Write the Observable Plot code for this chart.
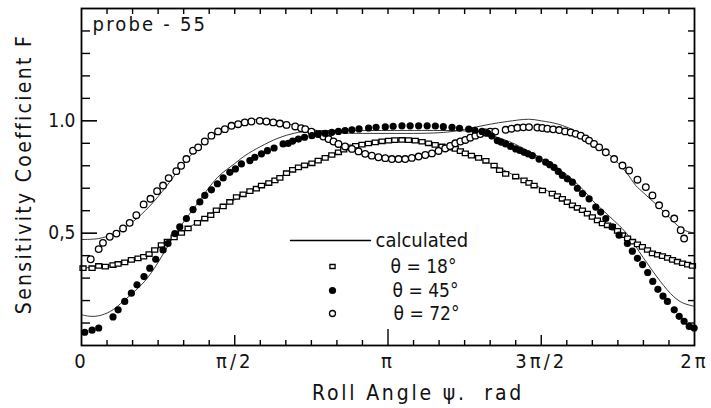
<!DOCTYPE html>
<html><head><meta charset="utf-8">
<script src="https://cdn.jsdelivr.net/npm/d3@7"></script>
<script src="https://cdn.jsdelivr.net/npm/@observablehq/plot@0.6"></script>
<style>
body{margin:0;background:#fff;}
svg{font-family:"DejaVu Sans Condensed","Liberation Sans Narrow","DejaVu Sans",sans-serif;}
</style></head><body><div id="chart"></div>
<script>
// roll angle in degrees (0..360 = 0..2π), sensitivity coefficient F
const sq18 = [[0.9,0.344],[6.2,0.344],[10.1,0.354],[14,0.351],[18.5,0.358],[21.5,0.363],[25.4,0.370],[29.3,0.381],[33.2,0.388],[36.5,0.395],[39.7,0.407],[43,0.425],[46.9,0.447],[50.4,0.462],[54.4,0.481],[58.7,0.501],[62.6,0.521],[68.1,0.546],[72.4,0.565],[75.9,0.580],[79.2,0.602],[83.2,0.619],[87.1,0.639],[91,0.661],[94.9,0.673],[98.9,0.687],[102.7,0.698],[105.7,0.712],[110,0.723],[113.6,0.735],[116.5,0.746],[120.4,0.767],
[124,0.782],[127.4,0.793],[131,0.802],[135.3,0.811],[139,0.823],[143.1,0.835],[147,0.848],[150.9,0.860],[154,0.872],[156.8,0.882],[161,0.889],[164.7,0.894],[168.5,0.899],[172.5,0.904],[176.5,0.909],[180.3,0.912],[184,0.914],[188.2,0.915],[192,0.914],[196,0.912],[200,0.907],[203.8,0.900],[207.7,0.893],[211.7,0.886],[215.5,0.881],[219.5,0.875],[222.5,0.865],[225.4,0.855],[229,0.845],[233.2,0.835],[237.5,0.822],[242.3,0.801],[245.5,0.780],
[249.1,0.764],[255,0.752],[259.9,0.735],[262.8,0.724],[265.8,0.712],[270.7,0.690],[276.5,0.676],[279.5,0.665],[282.4,0.653],[285.3,0.638],[288.3,0.624],[291.2,0.613],[294.2,0.602],[297.1,0.587],[300,0.572],[303,0.557],[305.9,0.543],[308.9,0.535],[311.8,0.528],[314.8,0.510],[317.7,0.491],[320.7,0.477],[323.6,0.462],[326.5,0.450],[329.4,0.439],[332.4,0.425],[335.3,0.410],[338.3,0.404],[341.2,0.398],[344.2,0.390],[347.1,0.381],[350,0.373],[353,0.366],[356,0.360],[358.8,0.354]];

const dot45 = [[1.9,0.059],[6.2,0.068],[10.1,0.078],[18.5,0.127],[21.5,0.159],[25.4,0.196],[29.3,0.233],[32.6,0.270],[36.7,0.307],[40.1,0.344],[43.6,0.384],[47.9,0.425],[50.8,0.454],[54.8,0.498],[57.7,0.528],[61.6,0.565],[65.5,0.605],[69.5,0.639],[72.4,0.668],[76.3,0.693],[79.8,0.720],[83.2,0.746],[87.1,0.771],[90.4,0.786],[93.9,0.808],[98.9,0.823],[101.8,0.838],[105.7,0.853],[109.2,0.867],[113.1,0.879],[118.4,0.897],[121.4,0.900],
[124,0.910],[127.4,0.919],[131,0.927],[135.3,0.934],[139,0.940],[143.1,0.944],[147,0.949],[150.9,0.953],[154.8,0.957],[158.8,0.960],[163,0.964],[168.6,0.968],[173,0.971],[178.4,0.973],[183,0.976],[188.2,0.978],[193,0.978],[198,0.978],[203,0.978],[207.8,0.977],[212.5,0.974],[217.6,0.971],[222,0.967],[227.4,0.963],[231,0.958],[235.2,0.953],[238.5,0.945],[241,0.932],
[244.2,0.912],[246.5,0.905],[249.1,0.897],[252,0.886],[255,0.875],[257.5,0.868],[259.9,0.860],[262.3,0.853],[264.8,0.845],[268.7,0.830],[272.6,0.816],[275,0.805],[277.5,0.793],[280,0.775],[282.4,0.757],[285.3,0.742],[288.3,0.727],[291.2,0.700],[294.2,0.676],[298.1,0.653],[302,0.616],[304.9,0.594],[307.9,0.565],[311.8,0.528],[315.7,0.491],[320.6,0.454],[323.5,0.420],[326.5,0.388],[329.5,0.360],[332.5,0.325],[335.5,0.285],[338.5,0.250],[341.5,0.220],[344.1,0.196],[348.1,0.159],[351,0.130],[353.9,0.108],[356.9,0.085],[359.8,0.078]];

const circ72 = [[5.4,0.384],[10.1,0.429],[12.6,0.457],[16.6,0.484],[20.5,0.498],[24.4,0.521],[28.3,0.546],[32.2,0.580],[36.5,0.628],[40.5,0.653],[44.4,0.687],[47.9,0.712],[51.2,0.745],[55.7,0.776],[58.5,0.800],[61.6,0.830],[65.5,0.867],[68.5,0.882],[72.4,0.908],[76.3,0.934],[80.2,0.953],[84.2,0.963],[88.1,0.978],[92,0.985],[95.9,0.993],[99.8,0.997],[104.7,1.000],[108.6,0.997],[112.6,0.993],[116.5,0.988],[120.4,0.982],
[125.5,0.975],[129,0.967],[131.4,0.963],[135,0.952],[139.2,0.941],[142,0.930],[145.1,0.919],[148,0.908],[150.9,0.897],[154.8,0.886],[158.8,0.875],[162.7,0.864],[166.6,0.853],[170.5,0.845],[174.4,0.838],[178.4,0.834],[182.3,0.830],[186.2,0.830],[190.1,0.830],[194,0.835],[198,0.841],[201.9,0.848],[205.8,0.855],[209.7,0.866],[213.6,0.877],[216.5,0.888],[219.5,0.900],[222.5,0.908],[225.4,0.915],[228.3,0.925],[231.3,0.934],[234.2,0.941],[237.2,0.948],[240,0.952],
[243,0.952],[249.1,0.960],[252.5,0.965],[256,0.969],[259.5,0.971],[262.8,0.972],[267.7,0.970],[270.6,0.968],[273.6,0.965],[277,0.962],[280.5,0.959],[284,0.953],[287.3,0.948],[290.2,0.942],[293.2,0.934],[296,0.922],[298.1,0.912],[301,0.897],[304,0.882],[307.9,0.860],[312.8,0.830],[317.7,0.801],[321.6,0.779],[326.5,0.738],[331.4,0.705],[335.3,0.668],[339.2,0.624],[343.1,0.587],[348.1,0.565],[351.9,0.513],[353.9,0.476]];

const calc18 = [[0,0.345],[20,0.36],[40,0.41],[60,0.51],[80,0.605],[100,0.69],[120,0.765],[140,0.83],[160,0.88],[180,0.91],[200,0.905],[220,0.87],[240,0.81],[260,0.735],[280,0.665],[300,0.575],[320,0.48],[340,0.40],[360,0.355]];
const calc45 = [[0,0.137],[5,0.130],[10,0.132],[17,0.152],[25,0.20],[37,0.285],[45,0.37],[52.8,0.469],[60,0.55],[66.5,0.616],[80,0.749],[90,0.81],[96,0.845],[105,0.885],[115.5,0.923],[125,0.945],[135,0.955],[150,0.957],[180,0.957],[210,0.957],[225,0.955],[235,0.945],[245,0.925],[255,0.895],[265,0.855],[275,0.81],[285,0.76],[295,0.69],[300,0.646],[310,0.575],[320,0.50],[330,0.39],[340,0.285],[347.7,0.218],[353,0.19],[360,0.174]];
const calc72 = [[0,0.472],[10,0.476],[20,0.50],[30,0.55],[40,0.62],[50,0.71],[60,0.81],[70,0.89],[80,0.947],[90,0.985],[100,1.003],[105,1.007],[110,1.005],[120,0.99],[130,0.97],[140,0.955],[150,0.947],[165,0.944],[180,0.944],[195,0.944],[210,0.947],[220,0.955],[230,0.97],[240,0.985],[250,0.997],[262.6,1.007],[270,1.0],[280,0.985],[290,0.955],[300,0.91],[310,0.85],[320,0.77],[325.5,0.712],[330,0.68],[339.2,0.616],[351,0.528],[355,0.51],[360,0.50]];

const xMinorTicks = [15,30,45,60,75,105,120,135,150,165,195,210,225,240,255,285,300,315,330,345];
const xMajorTicks = [90,270];
const xPiTick = [180];
const xTickValues = [0,90,180,270,360];
const xTickLabels = ["0","π/2","π","3π/2","2π"];
const yMinorTicks = [0.1,0.2,0.3,0.4,0.6,0.7,0.8,0.9,1.1,1.2,1.3,1.4];
const yMajorTicks = [0.5,1.0];
const yTickLabels = ["0,5","1.0"];
const legendLabels = ["θ = 18°","θ = 45°","θ = 72°"];
const xTitle = "Roll Angle ψ.  rad";
const yTitle = "Sensitivity Coefficient F";
const probeLabel = "probe - 55";

const W = 711, H = 408, mL = 81, mR = 17, mT = 8, mB = 63;
const fw = W - mL - mR, fh = H - mT - mB;

const rectSym = {draw(ctx){ ctx.rect(-3,-2.2,6,4.4); }};
const lineShape = {draw(ctx,l){ ctx.moveTo(0,0); ctx.lineTo(0,-l); }};
const toObj = a => a.map(([x,y]) => ({x,y}));
const lineStyle = {x:"x", y:"y", stroke:"#222", strokeWidth:0.9, curve:"catmull-rom"};
const tk = {stroke:"#000", strokeWidth:1.4};

const chart = Plot.plot({
  width: W, height: H,
  marginLeft: mL, marginRight: mR, marginTop: mT, marginBottom: mB,
  x: {domain:[0,360], axis:null},
  y: {domain:[0,1.5], axis:null},
  style: {fontFamily:'"DejaVu Sans Condensed","Liberation Sans Narrow",sans-serif', color:"#111"},
  marks: [
    Plot.line(toObj(calc18), lineStyle),
    Plot.line(toObj(calc45), lineStyle),
    Plot.line(toObj(calc72), lineStyle),
    Plot.dot(toObj(sq18), {x:"x", y:"y", symbol: rectSym, r:3, stroke:"#000", strokeWidth:1.3, fill:"white"}),
    Plot.dot(toObj(circ72), {x:"x", y:"y", r:3.3, stroke:"#000", strokeWidth:1.3, fill:"white"}),
    Plot.dot(toObj(dot45), {x:"x", y:"y", r:3.6, fill:"#000", stroke:"none"}),
    Plot.frame({stroke:"#000", strokeWidth:1.8}),
    // inward ticks
    Plot.tickX(xMinorTicks, {x:d=>d, insetTop: fh-5, ...tk}),
    Plot.tickX(xMajorTicks, {x:d=>d, insetTop: fh-10, ...tk}),
    Plot.tickX(xPiTick, {x:d=>d, insetTop: fh-16, ...tk}),
    Plot.tickX(xMinorTicks.concat(xMajorTicks, xPiTick), {x:d=>d, insetBottom: fh-6, ...tk}),
    Plot.tickY(yMinorTicks, {y:d=>d, insetRight: fw-9, ...tk}),
    Plot.tickY(yMajorTicks, {y:d=>d, insetRight: fw-16, stroke:"#000", strokeWidth:1.6}),
    Plot.tickY(yMinorTicks.concat(yMajorTicks), {y:d=>d, insetLeft: fw-6, ...tk}),
    // tick labels
    Plot.axisX(xTickValues, {anchor:"bottom", tickSize:0, tickPadding:8, fontSize:20, tickFormat:(d,i)=>xTickLabels[i], label:null}),
    Plot.axisY(yMajorTicks, {anchor:"left", tickSize:0, tickPadding:6, fontSize:19, tickFormat:(d,i)=>yTickLabels[i], label:null}),
    // axis titles
    Plot.text([xTitle], {frameAnchor:"bottom", dx:30, dy:48, fontSize:21, lineAnchor:"middle"}),
    Plot.text([yTitle], {frameAnchor:"left", textAnchor:"middle", dx:-57, dy:-3, rotate:-90, fontSize:21, lineAnchor:"middle"}),
    Plot.text([probeLabel], {frameAnchor:"top-left", dx:11, dy:16, fontSize:20, textAnchor:"start", lineAnchor:"middle"}),
    // legend
    Plot.vector([0], {frameAnchor:"top-left", dx:209, dy:232, length:80, rotate:90, anchor:"start", shape:lineShape, stroke:"#000", strokeWidth:1.4}),
    Plot.text(["calculated"], {frameAnchor:"top-left", dx:294, dy:232, fontSize:20, textAnchor:"start", lineAnchor:"middle"}),
    Plot.dot([0], {frameAnchor:"top-left", dx:251, dy:258, symbol:{draw(ctx){ctx.rect(-2.6,-2,5.2,4);}}, r:3, stroke:"#000", strokeWidth:1.3, fill:"white"}),
    Plot.dot([0], {frameAnchor:"top-left", dx:251, dy:282, r:3.6, fill:"#000"}),
    Plot.dot([0], {frameAnchor:"top-left", dx:251, dy:305, r:3, stroke:"#000", strokeWidth:1.3, fill:"white"}),
    Plot.text([legendLabels[0]], {frameAnchor:"top-left", dx:309, dy:258, fontSize:19, textAnchor:"start", lineAnchor:"middle"}),
    Plot.text([legendLabels[1]], {frameAnchor:"top-left", dx:311, dy:282, fontSize:19, textAnchor:"start", lineAnchor:"middle"}),
    Plot.text([legendLabels[2]], {frameAnchor:"top-left", dx:312, dy:305, fontSize:19, textAnchor:"start", lineAnchor:"middle"})
  ]
});
// wider letter spacing, as in the original typography
const spacing = new Map([[xTitle, 2.8], [yTitle, 2.3], [probeLabel, 2.2]]);
xTickLabels.forEach(s => spacing.set(s, 3));
d3.select(chart).selectAll("text").each(function(){
  const ls = spacing.get(this.textContent);
  if (ls) this.setAttribute("letter-spacing", ls);
});
document.getElementById("chart").appendChild(chart);
</script></body></html>
